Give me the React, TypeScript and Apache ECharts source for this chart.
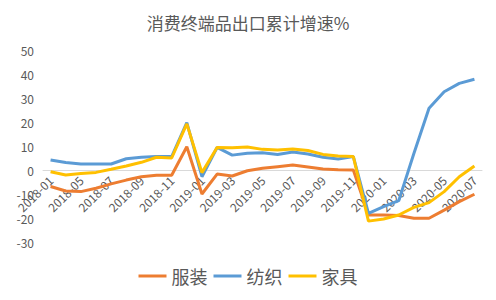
import React, { useEffect, useRef } from "react";
import * as echarts from "echarts";

const categories = [
  "2018-01", "2018-03", "2018-05", "2018-06", "2018-07", "2018-08", "2018-09", "2018-10", "2018-11", "2018-12",
  "2019-01", "2019-02", "2019-03", "2019-04", "2019-05", "2019-06", "2019-07", "2019-08", "2019-09", "2019-10",
  "2019-11", "2019-12", "2020-01", "2020-02", "2020-03", "2020-04", "2020-05", "2020-06", "2020-07",
];

const apparel = [
  -6.9, -8.75, -9.0, -7.6, -5.8, -4.2, -2.8, -2.2, -2.2, 9.7,
  -10.0, -1.7, -2.5, -0.3, 0.7, 1.4, 2.1, 1.25, 0.4, 0.1,
  0.0, -18.75, -18.75, -19.0, -20.1, -20.1, -16.7, -13.2, -10.1,
];

const textile = [
  4.2, 3.1, 2.5, 2.5, 2.5, 4.7, 5.3, 5.6, 5.6, 19.7,
  -2.8, 9.4, 6.2, 7.0, 7.2, 6.5, 7.5, 6.7, 5.3, 4.6,
  5.6, -18.1, -15.3, -12.8, 6.9, 25.7, 32.6, 36.1, 37.8,
];

const furniture = [
  -0.7, -2.1, -1.5, -1.0, 0.3, 1.7, 3.2, 5.3, 5.0, 19.2,
  -1.1, 9.4, 9.3, 9.6, 8.6, 8.3, 8.75, 8.1, 6.5, 5.8,
  5.6, -21.3, -20.4, -18.75, -15.6, -13.6, -9.0, -2.8, 1.7,
];

const seriesNames = ["服装", "纺织", "家具"];
const colors = ["#ED7D31", "#5B9BD5", "#FFC000"];

export default function App() {
  const ref = useRef<HTMLDivElement>(null);
  useEffect(() => {
    document.body.style.margin = "0";
    if (!ref.current) return;
    const chart = echarts.init(ref.current, null, { renderer: "svg" });
    const font = "'Noto Sans CJK SC', sans-serif";
    const data = [apparel, textile, furniture];
    const gridTop = 50;
    const gridBottom = 58;
    const plotH = 300 - gridTop - gridBottom;
    const zeroOffset = (plotH * 30) / 80;
    chart.setOption({
      animation: false,
      backgroundColor: "#ffffff",
      title: {
        text: "消费终端品出口累计增速%",
        left: "center",
        top: 9,
        textStyle: { color: "#595959", fontSize: 17, fontWeight: "normal", fontFamily: font },
      },
      legend: {
        data: seriesNames,
        left: "center",
        top: 262,
        icon: "rect",
        itemWidth: 28,
        itemHeight: 3,
        itemGap: 6,
        textStyle: { color: "#595959", fontSize: 18, fontFamily: font },
      },
      grid: { left: 43, right: 14, top: gridTop, bottom: gridBottom, containLabel: false },
      xAxis: {
        type: "category",
        data: categories,
        boundaryGap: true,
        position: "bottom",
        offset: -zeroOffset,
        axisLine: { show: true, onZero: false, lineStyle: { color: "#D9D9D9", width: 1 } },
        axisTick: { show: false },
        axisLabel: {
          interval: 1,
          rotate: 45,
          color: "#595959",
          fontSize: 12,
          fontFamily: font,
          margin: 8,
        },
        splitLine: { show: false },
      },
      yAxis: {
        type: "value",
        min: -30,
        max: 50,
        interval: 10,
        axisLine: { show: false },
        axisTick: { show: false },
        splitLine: { show: false },
        axisLabel: { color: "#595959", fontSize: 12, fontFamily: font, margin: 9 },
      },
      series: seriesNames.map((name, i) => ({
        name,
        type: "line",
        data: data[i],
        symbol: "none",
        lineStyle: { color: colors[i], width: 3 },
        itemStyle: { color: colors[i] },
      })),
    });
    return () => chart.dispose();
  }, []);
  return <div ref={ref} style={{ width: 496, height: 300 }} />;
}
